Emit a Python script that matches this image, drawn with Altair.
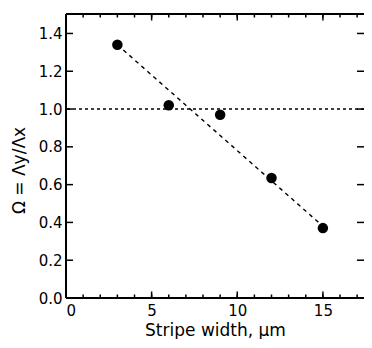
import altair as alt
import pandas as pd

# data
stripe_width = [3, 6, 9, 12, 15]
omega = [1.34, 1.02, 0.97, 0.635, 0.37]
fit_x = [3, 15]
fit_y = [1.34, 0.38]
ref_level = [1.0]
x_major = [0, 5, 10, 15]
x_minor = list(range(0, 18))
y_major = [0, 0.2, 0.4, 0.6, 0.8, 1.0, 1.2, 1.4]

W, H = 298, 284
FONT = "DejaVu Sans"

pts = pd.DataFrame({"x": stripe_width, "y": omega})
fit = pd.DataFrame({"x": fit_x, "y": fit_y})
ref = pd.DataFrame({"y": ref_level})
xM = pd.DataFrame({"x": x_major})
xm = pd.DataFrame({"x": x_minor})
yM = pd.DataFrame({"y": y_major})

xs = alt.Scale(domain=[0, 17.4], nice=False, zero=False)
ys = alt.Scale(domain=[0, 1.503], nice=False, zero=False)

xaxis = alt.Axis(values=x_major, ticks=False, domain=False, grid=False,
                 labelFontSize=15, labelFont=FONT, labelColor="black",
                 labelPadding=5, title="Stripe width, μm", titleFontSize=17,
                 titleFont=FONT, titleFontWeight="normal", titleColor="black",
                 titleY=37, titleBaseline="alphabetic")
yaxis = alt.Axis(values=y_major, ticks=False, domain=False, grid=False,
                 labelFontSize=15, labelFont=FONT, labelColor="black",
                 labelPadding=4, format=".1f", labelFlush=False,
                 title="Ω = Λy/Λx", titleFontSize=17, titleFont=FONT,
                 titleFontWeight="normal", titleColor="black",
                 titleX=-47, titleY=156, titleBaseline="middle", titleAlign="center")

points = alt.Chart(pts).mark_point(filled=True, color="black", size=110, opacity=1).encode(
    x=alt.X("x:Q", scale=xs, axis=xaxis),
    y=alt.Y("y:Q", scale=ys, axis=yaxis),
)
fitline = alt.Chart(fit).mark_line(color="black", strokeWidth=1.4, strokeDash=[4, 4]).encode(
    x=alt.X("x:Q", scale=xs), y=alt.Y("y:Q", scale=ys))
refline = alt.Chart(ref).mark_rule(color="black", strokeWidth=1.4, strokeDash=[3, 3]).encode(
    y=alt.Y("y:Q", scale=ys))

def xticks(df, L):
    b = alt.Chart(df).mark_rule(color="black", strokeWidth=1.5).encode(
        x=alt.X("x:Q", scale=xs), y=alt.value(H), y2=alt.value(H - L))
    t = alt.Chart(df).mark_rule(color="black", strokeWidth=1.5).encode(
        x=alt.X("x:Q", scale=xs), y=alt.value(0), y2=alt.value(L))
    return b + t

def yticks(df, L):
    l = alt.Chart(df).mark_rule(color="black", strokeWidth=1.5).encode(
        y=alt.Y("y:Q", scale=ys), x=alt.value(0), x2=alt.value(L))
    r = alt.Chart(df).mark_rule(color="black", strokeWidth=1.5).encode(
        y=alt.Y("y:Q", scale=ys), x=alt.value(W), x2=alt.value(W - L))
    return l + r

frame_left = alt.Chart(ref).mark_rule(color="black", strokeWidth=2).encode(
    x=alt.value(0), y=alt.value(0), y2=alt.value(H))
frame_top = alt.Chart(ref).mark_rule(color="black", strokeWidth=2).encode(
    x=alt.value(0), x2=alt.value(W), y=alt.value(0))
frame_bottom = alt.Chart(ref).mark_rule(color="black", strokeWidth=2).encode(
    x=alt.value(0), x2=alt.value(W), y=alt.value(H))

chart = alt.layer(
    xticks(xm, 3.5), xticks(xM, 6.5), yticks(yM, 7), refline, fitline,
    frame_left, frame_top, frame_bottom, points
).properties(
    width=W, height=H,
    autosize=alt.AutoSizeParams(type="none"),
    padding={"left": 58, "top": 6, "right": 0, "bottom": 41},
).configure_view(stroke=None).configure(background="white")

chart.save("out.html", embed_options={"renderer": "svg", "actions": False})
